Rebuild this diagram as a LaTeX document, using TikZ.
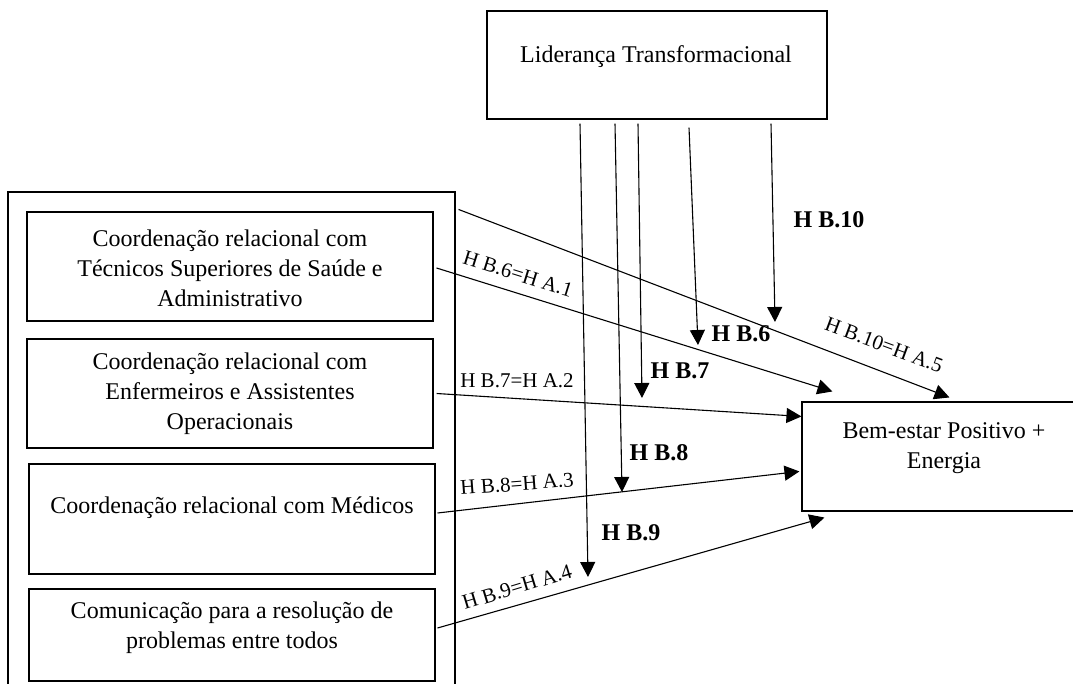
\documentclass[tikz,border=0pt]{standalone}
\usepackage{fontspec}
\setmainfont{Liberation Serif}
\usetikzlibrary{arrows.meta,calc}
\begin{document}
\begin{tikzpicture}[x=1pt,y=-1pt,
  box/.style={draw, line width=1.1pt, inner sep=0pt, rectangle},
  txt/.style={font=\fontsize{24}{30}\selectfont, align=center, inner sep=0pt},
  lab/.style={font=\fontsize{21}{25}\selectfont, inner sep=0pt},
  blab/.style={font=\fontsize{24}{28}\selectfont\bfseries, inner sep=0pt},
  arr/.style={line width=1.1pt, -{Triangle[length=15pt,width=15pt]}},
]
\useasboundingbox (0,0) rectangle (1073,684);

% boxes
\node[box, minimum width=447pt, minimum height=528pt] (outer) at (231.5,456) {};
\node[box, minimum width=340pt, minimum height=108pt] (top) at (657,65) {};
\node[box, minimum width=406pt, minimum height=109pt] (b1) at (230,266.5) {};
\node[box, minimum width=406pt, minimum height=109pt] (b2) at (230,393.5) {};
\node[box, minimum width=406pt, minimum height=110pt] (b3) at (232,519) {};
\node[box, minimum width=406pt, minimum height=92pt] (b4) at (232,635) {};
\node[box, minimum width=283pt, minimum height=109pt] (bem) at (943.5,456.5) {};

% texts
\node[txt] (ttop) at (656,57) {Liderança Transformacional};
\node[txt] (t1) at (230,268) {Coordenação relacional com\\Técnicos Superiores de Saúde e\\Administrativo};
\node[txt] (t2) at (230,394) {Coordenação relacional com\\Enfermeiros e Assistentes\\Operacionais};
\node[txt] (t3) at (232,508) {Coordenação relacional com Médicos};
\node[txt] (t4) at (232,628) {Comunicação para a resolução de\\problemas entre todos};
\node[txt] (tbem) at (944,448) {Bem-estar Positivo +\\Energia};

% moderation arrows from the top box
\coordinate (e9) at (588,577);
\coordinate (e8) at (622,492);
\coordinate (e7) at (642,398);
\coordinate (e6) at (698,345);
\coordinate (e10) at (775,322);
\draw[arr] ($(top.south)+(-77,4)$) -- (e9);
\draw[arr] ($(top.south)+(-42,4)$) -- (e8);
\draw[arr] ($(top.south)+(-19,4)$) -- (e7);
\draw[arr] ($(top.south)+(32,8)$) -- (e6);
\draw[arr] ($(top.south)+(114,4)$) -- (e10);

% direct arrows to the outcome
\draw[arr] ($(outer.north east)+(3,18)$) -- ($(bem.north west)+(148,-4)$);
\draw[arr] ($(b1.east)+(3,1.5)$) -- ($(bem.north west)+(31,-10)$);
\draw[arr] ($(b2.east)+(3,0)$) -- ($(bem.north west)+(0,15)$);
\draw[arr] ($(b3.east)+(2,-6)$) -- ($(bem.north west)+(-2,70)$);
\draw[arr] ($(b4.east)+(2,-7)$) -- ($(bem.south west)+(23,6)$);

% path labels
\node[lab, rotate=-17.3] (l1) at (518,274) {H B.6=H A.1};
\node[lab] (l2) at (517,381) {H B.7=H A.2};
\node[lab, rotate=4.2] (l3) at (517,484) {H B.8=H A.3};
\node[lab, rotate=16.9] (l4) at (517,587) {H B.9=H A.4};
\node[lab, rotate=-20.4] (l5) at (884,345) {H B.10=H A.5};

% bold moderation labels
\node[blab] (m10) at (829,220) {H B.10};
\node[blab] (m6) at (741,334) {H B.6};
\node[blab] (m7) at (680,371) {H B.7};
\node[blab] (m8) at (659,453) {H B.8};
\node[blab] (m9) at (631,533) {H B.9};
\end{tikzpicture}
\end{document}
